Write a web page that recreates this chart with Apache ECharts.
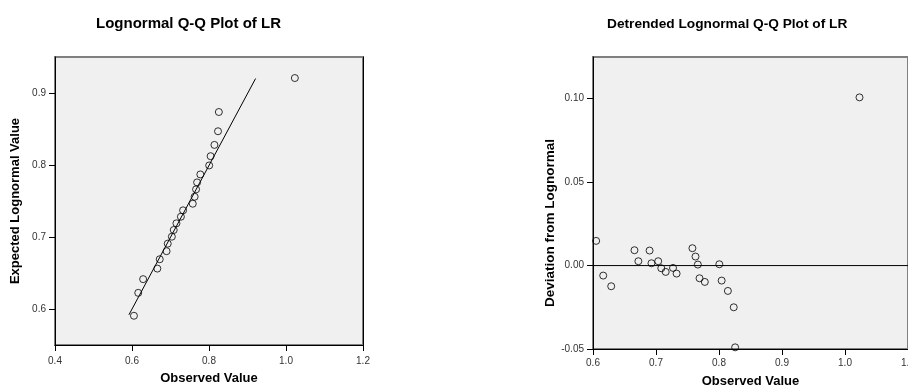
<!DOCTYPE html>
<html>
<head>
<meta charset="utf-8">
<script src="https://cdn.jsdelivr.net/npm/echarts@6/dist/echarts.min.js"></script>
<style>
html,body{margin:0;padding:0;background:#fff;}
#c{width:908px;height:385px;}
</style>
</head>
<body>
<div id="c"></div>
<script>
// Observed values (LR), sorted
var observed = [0.6050, 0.6162, 0.6289, 0.6658, 0.6720, 0.6898, 0.6928, 0.7035, 0.7084, 0.7154, 0.7270, 0.7327, 0.7578, 0.7627, 0.7664, 0.7691, 0.7775, 0.8005, 0.8042, 0.8141, 0.8234, 0.8256, 1.0230];
// Expected lognormal values (left plot)
var expected = [0.5907, 0.6226, 0.6417, 0.6564, 0.6694, 0.6806, 0.6911, 0.7008, 0.7101, 0.7194, 0.7286, 0.7375, 0.7467, 0.7564, 0.7667, 0.7764, 0.7875, 0.8000, 0.8129, 0.8286, 0.8476, 0.8744, 0.9217];
// Deviation from lognormal (right plot)
var deviation = [0.0148, -0.0060, -0.0124, 0.0092, 0.0026, 0.0090, 0.0014, 0.0026, -0.0016, -0.0038, -0.0014, -0.0048, 0.0104, 0.0054, 0.0006, -0.0076, -0.0098, 0.0008, -0.0090, -0.0152, -0.0250, -0.0490, 0.1008];
// Reference lines
var refLineX = [0.592, 0.921];
var zeroLineX = [0.6, 1.1];
// Tick values
var leftXTicks = [0.4, 0.6, 0.8, 1.0, 1.2];
var leftYTicks = [0.6, 0.7, 0.8, 0.9];
var rightXTicks = [0.6, 0.7, 0.8, 0.9, 1.0, 1.1];
var rightYTicks = [-0.05, 0.00, 0.05, 0.10];
var titles = ['Lognormal Q-Q Plot of LR', 'Detrended Lognormal Q-Q Plot of LR'];
var xName = 'Observed Value';
var yNames = ['Expected Lognormal Value', 'Deviation from Lognormal'];

var FONT = '"Liberation Sans", Arial, Helvetica, sans-serif';

var qqData = observed.map(function (v, i) { return [v, expected[i]]; });
var detData = observed.map(function (v, i) { return [v, deviation[i]]; });

var pointStyle = {
  color: 'rgba(0,0,0,0)',
  borderColor: '#000',
  borderWidth: 1
};

function valAxis(opts) {
  return {
    type: 'value',
    gridIndex: opts.grid,
    min: opts.min,
    max: opts.max,
    position: opts.position,
    splitLine: { show: false },
    axisLine: { show: true, onZero: false, lineStyle: { color: '#000', width: 1 } },
    axisTick: { show: true, length: 6, inside: false, lineStyle: { color: '#000' }, customValues: opts.ticks },
    axisLabel: {
      show: true, margin: opts.margin, color: '#333', fontSize: 10, fontFamily: FONT,
      customValues: opts.ticks,
      formatter: function (v) { return v.toFixed(opts.dec); }
    },
    name: opts.name,
    nameLocation: 'middle',
    nameGap: opts.nameGap,
    nameTextStyle: { fontWeight: 'bold', fontSize: opts.nameSize || 13, color: '#000', fontFamily: FONT, padding: opts.namePad || 0 }
  };
}

var chart = echarts.init(document.getElementById('c'), null, { renderer: 'canvas' });
chart.setOption({
  animation: false,
  backgroundColor: '#fff',
  title: [
    { text: titles[0], left: 91, top: 11, textStyle: { fontSize: 15, fontWeight: 'bold', color: '#000', fontFamily: FONT } },
    { text: titles[1], left: 602, top: 12, textStyle: { fontSize: 13.7, fontWeight: 'bold', color: '#000', fontFamily: FONT } }
  ],
  grid: [
    { left: 55, top: 57, width: 308, height: 288, outerBoundsMode: 'none', containLabel: false, show: true, backgroundColor: '#f0f0f0', borderColor: '#808080', borderWidth: 2 },
    { left: 593, top: 57, width: 315, height: 292, outerBoundsMode: 'none', containLabel: false, show: true, backgroundColor: '#f0f0f0', borderColor: '#808080', borderWidth: 2 }
  ],
  xAxis: [
    valAxis({ grid: 0, min: 0.4, max: 1.2, ticks: leftXTicks, dec: 1, margin: 11, name: xName, nameGap: 27, position: 'bottom' }),
    valAxis({ grid: 1, min: 0.6, max: 1.1, ticks: rightXTicks, dec: 1, margin: 9, name: xName, nameGap: 26, position: 'bottom' })
  ],
  yAxis: [
    valAxis({ grid: 0, min: 0.55, max: 0.951, ticks: leftYTicks, dec: 1, margin: 9, name: yNames[0], nameGap: 33, position: 'left' }),
    valAxis({ grid: 1, min: -0.05, max: 0.125, ticks: rightYTicks, dec: 2, margin: 9, name: yNames[1], nameGap: 33, position: 'left', nameSize: 13.5, namePad: [0, 40, 0, 0] }),
    {
      type: 'value', gridIndex: 0, min: 0.55, max: 0.951, position: 'right',
      splitLine: { show: false }, axisTick: { show: false }, axisLabel: { show: false },
      axisLine: { show: true, lineStyle: { color: '#000', width: 1 } }
    }
  ],
  series: [
    {
      type: 'line', xAxisIndex: 0, yAxisIndex: 0, silent: true, symbol: 'none',
      data: [[refLineX[0], refLineX[0]], [refLineX[1], refLineX[1]]],
      lineStyle: { color: '#000', width: 1 }
    },
    {
      type: 'scatter', xAxisIndex: 0, yAxisIndex: 0, symbol: 'circle', symbolSize: 7,
      data: qqData, itemStyle: pointStyle
    },
    {
      type: 'line', xAxisIndex: 1, yAxisIndex: 1, silent: true, symbol: 'none',
      data: [[zeroLineX[0], 0], [zeroLineX[1], 0]],
      lineStyle: { color: '#000', width: 1 }
    },
    {
      type: 'scatter', xAxisIndex: 1, yAxisIndex: 1, symbol: 'circle', symbolSize: 7,
      data: detData, itemStyle: pointStyle
    }
  ]
});
</script>
</body>
</html>
